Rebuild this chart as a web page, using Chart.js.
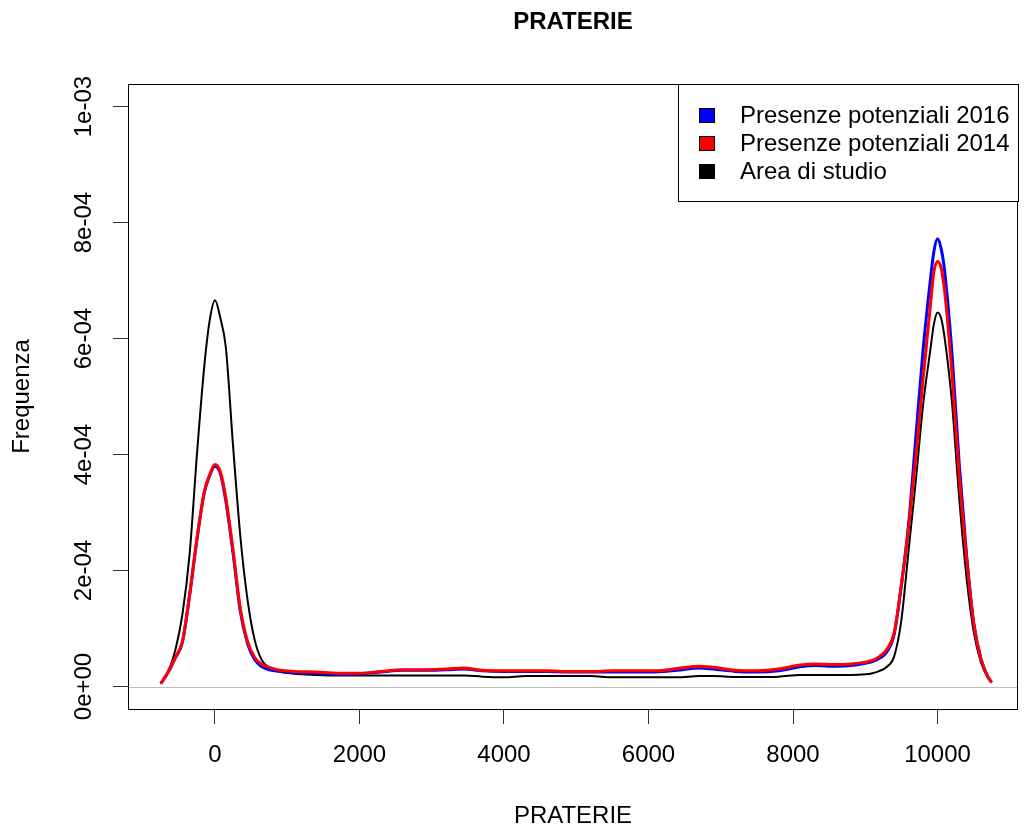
<!DOCTYPE html>
<html>
<head>
<meta charset="utf-8">
<script src="https://cdn.jsdelivr.net/npm/chart.js@4/dist/chart.umd.min.js"></script>
<style>
  html, body { margin: 0; padding: 0; background: #fff; }
  canvas { display: block; }
</style>
</head>
<body>
<canvas id="densityChart" width="1027" height="832"></canvas>
<script>
const chartTitle = 'PRATERIE';
const xTitle = 'PRATERIE';
const yTitle = 'Frequenza';
const seriesLabels = ['Presenze potenziali 2016', 'Presenze potenziali 2014', 'Area di studio'];
const seriesColors = ['#0000ff', '#ff0000', '#000000'];

const xTicks = [0, 2000, 4000, 6000, 8000, 10000];
const yTicks = [0, 0.0002, 0.0004, 0.0006, 0.0008, 0.001];
const yTickLabels = ['0e+00', '2e-04', '4e-04', '6e-04', '8e-04', '1e-03'];

// density curves (values in units of 1e-4)
const xs = [-750, -650, -550, -450, -350, -250, -150, -75, 0, 75, 150, 250, 350, 450, 550, 650, 750,
  900, 1100, 1400, 1700, 2000,
  2300, 2600, 2900, 3200, 3450, 3700,
  4000, 4300, 4600, 4900, 5200, 5500, 5800, 6100,
  6400, 6700, 6900, 7200, 7500, 7800,
  8100, 8300, 8600, 8800,
  9000, 9100, 9200, 9300, 9400,
  9500, 9600, 9700, 9800, 9900, 9950, 10000, 10050, 10100,
  10200, 10300, 10400, 10500, 10600, 10700, 10750];

const dens2016 = [0.05, 0.24, 0.49, 0.77, 1.58, 2.53, 3.33, 3.63, 3.8, 3.67, 3.2, 2.3, 1.3, 0.74, 0.46, 0.34, 0.29,
  0.26, 0.24, 0.23, 0.21, 0.22,
  0.25, 0.28, 0.28, 0.29, 0.3, 0.27,
  0.26, 0.26, 0.26, 0.25, 0.25, 0.25, 0.25, 0.25,
  0.28, 0.32, 0.3, 0.26, 0.25, 0.27,
  0.34, 0.36, 0.35, 0.36,
  0.4, 0.43, 0.49, 0.6, 0.9,
  1.75, 2.8, 4.3, 5.8, 7.0, 7.5, 7.72, 7.55, 7.15,
  5.75, 3.85, 2.3, 1.1, 0.48, 0.16, 0.07];

const dens2014 = [0.05, 0.25, 0.5, 0.78, 1.6, 2.55, 3.35, 3.65, 3.83, 3.7, 3.25, 2.35, 1.35, 0.78, 0.5, 0.38, 0.33,
  0.28, 0.26, 0.25, 0.23, 0.23,
  0.26, 0.29, 0.29, 0.3, 0.32, 0.28,
  0.27, 0.27, 0.27, 0.26, 0.26, 0.27, 0.27, 0.27,
  0.31, 0.35, 0.33, 0.28, 0.27, 0.3,
  0.37, 0.39, 0.38, 0.39,
  0.42, 0.45, 0.52, 0.64, 0.93,
  1.75, 2.75, 3.95, 5.3, 6.55, 7.15, 7.33, 7.22, 6.8,
  5.4, 3.65, 2.25, 1.1, 0.48, 0.16, 0.07];

const densArea = [0.05, 0.25, 0.62, 1.25, 2.3, 4.0, 5.5, 6.3, 6.66, 6.35, 5.85, 4.15, 2.6, 1.5, 0.8, 0.45, 0.33,
  0.26, 0.22, 0.2, 0.19, 0.19,
  0.19, 0.19, 0.19, 0.19, 0.19, 0.17,
  0.16, 0.18, 0.18, 0.18, 0.18, 0.16, 0.16, 0.16,
  0.16, 0.18, 0.18, 0.165, 0.165, 0.17,
  0.2, 0.2, 0.2, 0.2,
  0.21, 0.23, 0.27, 0.34, 0.52,
  1.15, 2.35, 3.55, 4.85, 5.8, 6.25, 6.45, 6.35, 6.0,
  4.9, 3.25, 1.9, 0.95, 0.42, 0.15, 0.07];

const FONT = "'Liberation Sans', Arial, sans-serif";
Chart.defaults.font.family = FONT;
Chart.defaults.color = '#000';

const toPoints = arr => xs.map((x, i) => ({ x: x, y: arr[i] * 1e-4 }));

// R-like extras: box, zero line, title, rotated y labels, legend
const rStyle = {
  id: 'rStyle',
  beforeDatasetsDraw(chart) {
    const { ctx, chartArea: a, scales: { y } } = chart;
    const y0 = Math.round(y.getPixelForValue(0)) + 0.5;
    ctx.save();
    ctx.strokeStyle = '#bebebe';
    ctx.lineWidth = 1;
    ctx.beginPath();
    ctx.moveTo(a.left, y0);
    ctx.lineTo(a.right, y0);
    ctx.stroke();
    ctx.restore();
  },
  afterDraw(chart) {
    const { ctx, chartArea: a, scales: { y } } = chart;
    ctx.save();

    // plot box
    ctx.strokeStyle = '#000';
    ctx.lineWidth = 1;
    ctx.strokeRect(a.left + 0.5, a.top + 0.5, a.right - a.left - 1, a.bottom - a.top);

    // main title
    ctx.fillStyle = '#000';
    ctx.font = 'bold 24px ' + FONT;
    ctx.textAlign = 'center';
    ctx.textBaseline = 'middle';
    ctx.fillText(chartTitle, (a.left + a.right) / 2, 22);

    // y tick labels, rotated like R's default
    ctx.font = '24px ' + FONT;
    yTicks.forEach((v, i) => {
      ctx.save();
      ctx.translate(84, y.getPixelForValue(v));
      ctx.rotate(-Math.PI / 2);
      ctx.fillText(yTickLabels[i], 0, 0);
      ctx.restore();
    });

    // legend box in the top right corner
    const lx = 678, ly = a.top, lw = a.right - lx, lh = 117;
    ctx.fillStyle = '#fff';
    ctx.fillRect(lx, ly, lw, lh);
    ctx.strokeStyle = '#000';
    ctx.strokeRect(lx + 0.5, ly + 0.5, lw, lh);
    ctx.textAlign = 'left';
    chart.data.datasets.forEach((ds, i) => {
      const cy = ly + 32 + i * 28;
      ctx.fillStyle = ds.borderColor;
      ctx.fillRect(699, cy - 8, 16, 15);
      ctx.strokeStyle = '#000';
      ctx.strokeRect(699.5, cy - 7.5, 15, 14);
      ctx.fillStyle = '#000';
      ctx.fillText(ds.label, 740, cy);
    });
    ctx.restore();
  }
};

new Chart(document.getElementById('densityChart'), {
  type: 'line',
  data: {
    datasets: [
      { label: seriesLabels[0], data: toPoints(dens2016), borderColor: seriesColors[0], borderWidth: 3, order: 1 },
      { label: seriesLabels[1], data: toPoints(dens2014), borderColor: seriesColors[1], borderWidth: 3, order: 0 },
      { label: seriesLabels[2], data: toPoints(densArea), borderColor: seriesColors[2], borderWidth: 2, order: 2 }
    ]
  },
  options: {
    responsive: false,
    animation: false,
    layout: { padding: { top: 84, right: 9, left: 0, bottom: 0 } },
    plugins: {
      legend: { display: false },
      title: { display: false },
      tooltip: { enabled: false }
    },
    elements: {
      point: { radius: 0 },
      line: { cubicInterpolationMode: 'monotone', fill: false }
    },
    scales: {
      x: {
        type: 'linear',
        min: -1204,
        max: 11114,
        afterBuildTicks: s => { s.ticks = xTicks.map(v => ({ value: v })); },
        afterFit: s => { s.height = 123; },
        border: { display: false },
        grid: { drawOnChartArea: false, drawTicks: true, tickLength: 15, color: '#333' },
        ticks: { font: { size: 24 }, padding: 17, maxRotation: 0, autoSkip: false, callback: v => String(v) },
        title: { display: true, text: xTitle, font: { size: 24 }, padding: { top: 0, bottom: 1 } }
      },
      y: {
        type: 'linear',
        min: -3.88e-5,
        max: 1.039e-3,
        afterBuildTicks: s => { s.ticks = yTicks.map(v => ({ value: v })); },
        afterFit: s => { s.width = 128; },
        border: { display: false },
        grid: { drawOnChartArea: false, drawTicks: true, tickLength: 15, color: '#333' },
        ticks: { display: false },
        title: { display: true, text: yTitle, font: { size: 24 }, padding: { top: 8, bottom: 0 } }
      }
    }
  },
  plugins: [rStyle]
});
</script>
</body>
</html>
